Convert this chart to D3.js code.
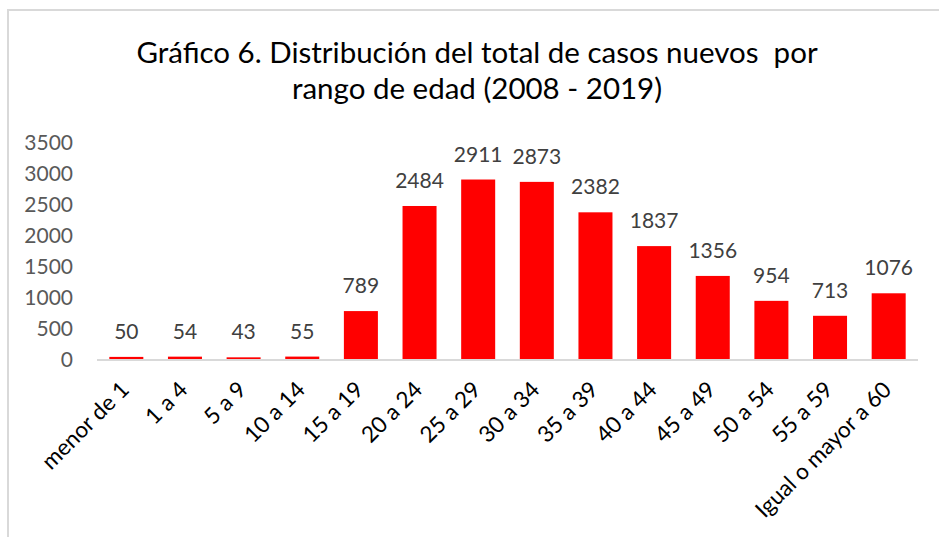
<!DOCTYPE html>
<html>
<head>
<meta charset="utf-8">
<script src="https://cdn.jsdelivr.net/npm/d3@7"></script>
<style>
  body { margin: 0; background: #fff; }
  svg { display: block; }
  text { font-family: Lato, "Liberation Sans", sans-serif; }
</style>
</head>
<body>
<div id="chart"></div>
<script>
// Datos
const categorias = ["menor de 1", "1 a 4", "5 a 9", "10 a 14", "15 a 19", "20 a 24", "25 a 29",
  "30 a 34", "35 a 39", "40 a 44", "45 a 49", "50 a 54", "55 a 59", "Igual o mayor a 60"];
const casos = [50, 54, 43, 55, 789, 2484, 2911, 2873, 2382, 1837, 1356, 954, 713, 1076];
const ticksY = [0, 500, 1000, 1500, 2000, 2500, 3000, 3500];
const titulo = ["Gráfico 6. Distribución del total de casos nuevos  por", "rango de edad (2008 - 2019)"];

const W = 939, H = 537;
const margin = { top: 143, right: 21, bottom: 177, left: 97 };
const width = W - margin.left - margin.right;
const height = H - margin.top - margin.bottom;

const svg = d3.select("#chart")
  .append("svg")
  .attr("width", W)
  .attr("height", H);

// Marco
svg.append("path")
  .attr("d", `M8,${H + 5} L8,10 L${W + 5},10`)
  .attr("fill", "none")
  .attr("stroke", "#d9d9d9")
  .attr("stroke-width", 2);

// Título
svg.append("g").selectAll("text")
  .data(titulo)
  .enter()
  .append("text")
  .attr("x", 477)
  .attr("y", (d, i) => 63 + i * 36)
  .attr("text-anchor", "middle")
  .attr("font-size", 29.5)
  .attr("fill", "#000")
  .style("white-space", "pre")
  .text(d => d);

const g = svg.append("g")
  .attr("transform", `translate(${margin.left},${margin.top})`);

// Escalas
const x = d3.scaleBand().domain(categorias).range([0, width]).paddingInner(0.42).paddingOuter(0.21);
const y = d3.scaleLinear().domain([0, 3500]).range([height, 0]);

// Eje Y (sin línea)
const yAxis = g.append("g")
  .call(d3.axisLeft(y).tickValues(ticksY).tickFormat(d3.format("d")).tickSize(0).tickPadding(24));
yAxis.select(".domain").remove();
yAxis.selectAll("text")
  .attr("font-family", "Lato, 'Liberation Sans', sans-serif")
  .attr("font-size", 21)
  .attr("fill", "#595959");

// Barras
g.selectAll(".bar")
  .data(casos)
  .enter()
  .append("rect")
  .attr("x", (d, i) => x(categorias[i]))
  .attr("y", d => y(d))
  .attr("width", x.bandwidth())
  .attr("height", d => height - y(d))
  .attr("fill", "#ff0000");

// Línea base
g.append("line")
  .attr("x1", 0).attr("x2", width)
  .attr("y1", height).attr("y2", height)
  .attr("stroke", "#d9d9d9")
  .attr("stroke-width", 2);

// Etiquetas de valores
g.selectAll(".lbl")
  .data(casos)
  .enter()
  .append("text")
  .attr("x", (d, i) => x(categorias[i]) + x.bandwidth() / 2)
  .attr("y", d => y(d) - 18)
  .attr("text-anchor", "middle")
  .attr("font-size", 21)
  .attr("fill", "#404040")
  .text(d => d);

// Eje X con etiquetas rotadas
const xAxis = g.append("g")
  .attr("transform", `translate(0,${height})`)
  .call(d3.axisBottom(x).tickSize(0).tickPadding(0));
xAxis.select(".domain").remove();
xAxis.selectAll("text")
  .attr("font-family", "Lato, 'Liberation Sans', sans-serif")
  .attr("font-size", 22.5)
  .attr("fill", "#000")
  .attr("text-anchor", "end")
  .attr("dy", "0.7em")
  .attr("transform", "translate(-7,20) rotate(-45)");
</script>
</body>
</html>
